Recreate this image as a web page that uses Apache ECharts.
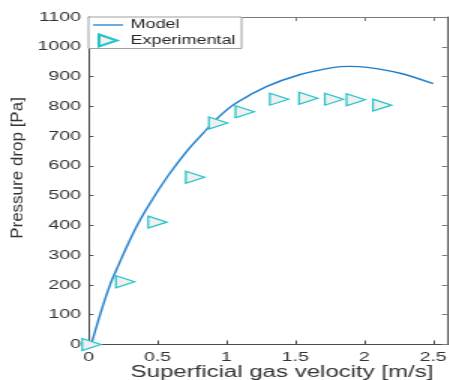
<!DOCTYPE html>
<html>
<head>
<meta charset="utf-8">
<script src="https://cdn.jsdelivr.net/npm/echarts@6/dist/echarts.min.js"></script>
<style>
  html, body { margin: 0; padding: 0; background: #fff; overflow: hidden; }
  /* the figure is laid out narrow and widened 1.5x horizontally */
  #chart { width: 299.33px; height: 380px; transform: scaleX(1.5); transform-origin: 0 0; }
</style>
</head>
<body>
<div id="chart"></div>
<script>
// Model prediction: superficial gas velocity [m/s] -> pressure drop [Pa]
const modelVelocity = [0.02, 0.083, 0.156, 0.216, 0.289, 0.373, 0.47, 0.59, 0.711, 0.832, 0.953, 1.074, 1.29, 1.53, 1.77, 1.89, 2.02, 2.26, 2.5];
const modelPressure = [0, 99, 200, 265, 340, 417, 492, 575, 648, 710, 768, 812, 866, 906, 930, 934, 931, 911, 876];

// Measured points
const expVelocity = [0, 0.245, 0.479, 0.752, 0.919, 1.112, 1.361, 1.573, 1.76, 1.917, 2.109];
const expPressure = [0, 211, 411, 562, 744, 782, 824, 827, 824, 822, 804];

const xTitle = 'Superficial gas velocity [m/s]';
const yTitle = 'Pressure drop [Pa]';

const axisColor = '#4a4a4a';
const boxColor = '#7a7a7a';
const textColor = '#333333';
const font = 'Liberation Sans, Arial, Helvetica, sans-serif';

const chart = echarts.init(document.getElementById('chart'), null, { renderer: 'canvas' });

const pair = (xs, ys) => xs.map((x, i) => [x, ys[i]]);
const plain = v => String(v);

chart.setOption({
  animation: false,
  backgroundColor: '#ffffff',
  grid: { left: 59, top: 17, width: 239, height: 327.5, outerBoundsMode: 'none', containLabel: false },
  legend: {
    orient: 'vertical',
    left: 59, top: 17,
    padding: [2, 4, 1, 3],
    itemGap: 2.5,
    itemWidth: 20, itemHeight: 12,
    backgroundColor: '#ffffff',
    borderColor: '#a0a0a0', borderWidth: 1,
    textStyle: { fontFamily: font, fontSize: 12, color: '#262626', lineHeight: 12 },
    data: [
      { name: 'Model', icon: 'path://M0,0 H20 V1.3 H0 Z' },
      { name: 'Experimental' }
    ]
  },
  xAxis: [{
    type: 'value', min: 0, max: 2.6, interval: 0.5,
    position: 'bottom',
    axisLine: { show: true, lineStyle: { color: axisColor, width: 1 } },
    axisTick: { show: true, inside: true, length: 4, lineStyle: { color: axisColor } },
    axisLabel: { show: true, margin: 6, color: textColor, fontFamily: font, fontSize: 13, showMaxLabel: false, formatter: plain },
    splitLine: { show: false },
    name: xTitle, nameLocation: 'middle', nameGap: 20, nameMoveOverlap: false,
    nameTextStyle: { fontFamily: font, fontSize: 16, color: textColor, padding: [0, 0, 0, 19] }
  }, {
    type: 'value', min: 0, max: 2.6, interval: 0.5,
    position: 'top',
    axisLine: { show: true, onZero: false, lineStyle: { color: boxColor, width: 1 } },
    axisTick: { show: true, inside: true, length: 4, lineStyle: { color: boxColor } },
    axisLabel: { show: false },
    splitLine: { show: false }
  }],
  yAxis: [{
    type: 'value', min: 0, max: 1100, interval: 100,
    position: 'left',
    axisLine: { show: true, lineStyle: { color: axisColor, width: 1 } },
    axisTick: { show: true, inside: true, length: 3.3, lineStyle: { color: axisColor } },
    axisLabel: { show: true, margin: 5, color: textColor, fontFamily: font, fontSize: 13, formatter: plain },
    splitLine: { show: false }
  }, {
    type: 'value', min: 0, max: 1100, interval: 100,
    position: 'right',
    axisLine: { show: true, onZero: false, lineStyle: { color: boxColor, width: 1 } },
    axisTick: { show: true, inside: true, length: 3.3, lineStyle: { color: boxColor } },
    axisLabel: { show: false },
    splitLine: { show: false }
  }],
  graphic: [{
    type: 'text',
    x: 12, y: 168,
    rotation: Math.PI / 2,
    scaleY: 0.68,
    style: { text: yTitle, fontFamily: font, fontSize: 17, fill: textColor, align: 'center', verticalAlign: 'middle' }
  }],
  series: [{
    name: 'Model',
    type: 'line',
    xAxisIndex: 0, yAxisIndex: 0,
    data: pair(modelVelocity, modelPressure),
    smooth: 0.3,
    symbol: 'none',
    lineStyle: { color: '#1f7fcc', width: 1.4 },
    itemStyle: { color: '#1f7fcc' },
    z: 2
  }, {
    name: 'Experimental',
    type: 'scatter',
    xAxisIndex: 0, yAxisIndex: 0,
    data: pair(expVelocity, expPressure),
    symbol: 'path://M0,0 L1,0.5 L0,1 Z',
    symbolSize: [12.5, 12],
    symbolOffset: [2, 0],
    symbolKeepAspect: false,
    itemStyle: { color: '#f0f0f0', borderColor: '#22c4c8', borderWidth: 1.2, opacity: 1 },
    z: 3
  }]
});
</script>
</body>
</html>
